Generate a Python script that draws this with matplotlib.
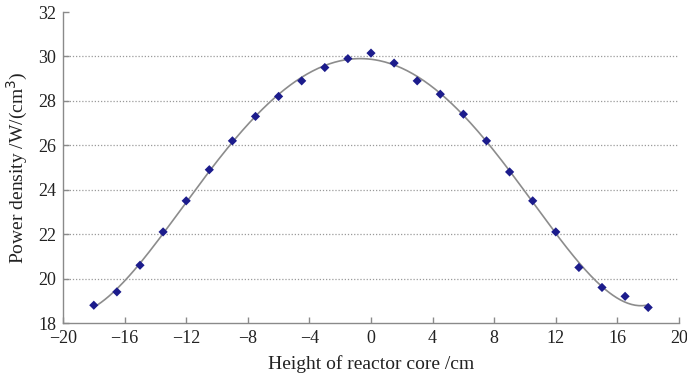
import numpy as np
import matplotlib
matplotlib.use("Agg")
import matplotlib.pyplot as plt

# Axial power density profile of the reactor core
height_cm = [-18, -16.5, -15, -13.5, -12, -10.5, -9, -7.5, -6, -4.5, -3, -1.5,
             0, 1.5, 3, 4.5, 6, 7.5, 9, 10.5, 12, 13.5, 15, 16.5, 18]
power_density = [18.8, 19.4, 20.6, 22.1, 23.5, 24.9, 26.2, 27.3, 28.2, 28.9, 29.5, 29.9,
                 30.15, 29.7, 28.9, 28.3, 27.4, 26.2, 24.8, 23.5, 22.1, 20.5, 19.6, 19.2, 18.7]
x_ticks = [-20, -16, -12, -8, -4, 0, 4, 8, 12, 16, 20]
y_ticks = [18, 20, 22, 24, 26, 28, 30, 32]

plt.rcParams['font.family'] = ['Liberation Serif', 'DejaVu Serif']

fig = plt.figure(figsize=(6.87, 3.79), dpi=100)
ax = fig.add_axes([63/687, 1 - 323/379, (679 - 63)/687, (323 - 12)/379])

# polynomial trend line through the measured points
coef = np.polyfit(height_cm, power_density, 6)
xs = np.linspace(min(height_cm), max(height_cm), 300)
ax.plot(xs, np.polyval(coef, xs), color='#8c8c8c', lw=1.2, zorder=2)

ax.scatter(height_cm, power_density, marker='D', s=22, color='#1c1c8c',
           edgecolors='none', zorder=3)

ax.set_xlim(-20, 20)
ax.set_ylim(18, 32)
ax.set_xticks(x_ticks)
ax.set_yticks(y_ticks)
ax.set_xticklabels([str(t).replace('-', '\u2212') for t in x_ticks])

for y in y_ticks[1:-1]:
    ax.axhline(y, color='#9a9a9a', lw=0.9, ls=(0, (1, 1.5)), zorder=1)

for side in ('top', 'right'):
    ax.spines[side].set_visible(False)
for side in ('left', 'bottom'):
    ax.spines[side].set_color('#8a8a8a')
    ax.spines[side].set_linewidth(1.0)

ax.tick_params(direction='in', length=4, width=1, color='#8a8a8a',
               labelsize=13, labelcolor='#222222', pad=5)

ax.set_xlabel('Height of reactor core /cm', fontsize=14, color='#222222', labelpad=6)
ax.set_ylabel('Power density /W/(cm$^3$)', fontsize=14, color='#222222', labelpad=6)

fig.savefig('out.png', dpi=100)
